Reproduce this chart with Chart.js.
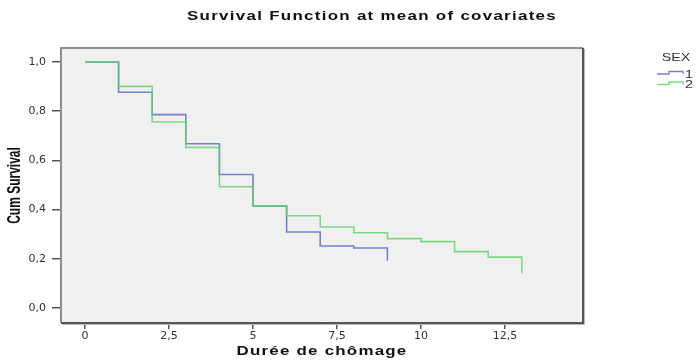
<!DOCTYPE html>
<html><head><meta charset="utf-8">
<script src="https://cdn.jsdelivr.net/npm/chart.js@4/dist/chart.umd.min.js"></script>
<style>html,body{margin:0;padding:0;background:#fff}#wrap{width:697px;height:362px;position:relative}</style>
</head><body><div id="wrap"><canvas id="c" width="697" height="362"></canvas></div>
<script>
const titleText = 'Survival Function at mean of covariates';
const xTitle = 'Durée de chômage';
const yTitle = 'Cum Survival';
const legendTitle = 'SEX';
const seriesNames = ['1', '2'];
const timesSex1 = [0, 1, 2, 3, 4, 5, 6, 7, 8, 9];
const survSex1 = [1.0, 0.877, 0.786, 0.668, 0.543, 0.414, 0.309, 0.252, 0.244, 0.192];
const timesSex2 = [0, 1, 2, 3, 4, 5, 6, 7, 8, 9, 10, 11, 12, 13];
const survSex2 = [1.0, 0.901, 0.756, 0.653, 0.493, 0.414, 0.375, 0.329, 0.306, 0.282, 0.270, 0.229, 0.207, 0.141];
const xTickValues = [0, 2.5, 5, 7.5, 10, 12.5];
const xTickLabels = ['0', '2,5', '5', '7,5', '10', '12,5'];
const yTickValues = [0, 0.2, 0.4, 0.6, 0.8, 1.0];
const yTickLabels = ['0,0', '0,2', '0,4', '0,6', '0,8', '1,0'];

const colors = ['rgba(96,114,198,0.88)', 'rgba(96,210,108,0.8)'];

function drawText(ctx, text, x, y, o) {
  ctx.save();
  ctx.font = o.font; ctx.fillStyle = o.color || '#000';
  ctx.textBaseline = 'middle'; ctx.textAlign = o.align || 'center';
  if ('letterSpacing' in ctx) ctx.letterSpacing = (o.ls || 0) + 'px';
  ctx.translate(x, y); ctx.scale(o.sx || 1, 1);
  if (o.rotate) ctx.rotate(o.rotate);
  ctx.fillText(text, 0, 0);
  ctx.restore();
}

const decor = {
  id: 'decor',
  beforeDatasetsDraw(chart) {
    const { ctx, chartArea: a } = chart;
    ctx.save();
    ctx.fillStyle = '#f0f0f0';
    ctx.fillRect(a.left, a.top, a.right - a.left, a.bottom - a.top);
    ctx.restore();
  },
  afterDatasetsDraw(chart) {
    const { ctx, chartArea: a } = chart;
    ctx.save();
    ctx.lineWidth = 2;
    ctx.strokeStyle = '#8e8e8e';
    ctx.beginPath();
    ctx.moveTo(a.left, a.bottom); ctx.lineTo(a.left, a.top); ctx.lineTo(a.right, a.top);
    ctx.stroke();
    ctx.strokeStyle = '#555';
    ctx.beginPath();
    ctx.moveTo(a.right, a.top); ctx.lineTo(a.right, a.bottom); ctx.lineTo(a.left, a.bottom);
    ctx.stroke();
    ctx.lineWidth = 1;
    ctx.strokeStyle = '#b8b8b8';
    ctx.beginPath();
    ctx.moveTo(a.right + 1.5, a.top + 1); ctx.lineTo(a.right + 1.5, a.bottom + 1.5); ctx.lineTo(a.left + 1, a.bottom + 1.5);
    ctx.stroke();
    ctx.restore();

    // titles
    drawText(ctx, titleText, 372, 16, { font: 'bold 13px "Liberation Sans", Arial, sans-serif', color: '#111', sx: 1.3, ls: 1.0 });
    drawText(ctx, xTitle, (a.left + a.right) / 2, 351, { font: 'bold 13px "Liberation Sans", Arial, sans-serif', color: '#111', sx: 1.3, ls: 0.95 });
    drawText(ctx, yTitle, 15, (a.top + a.bottom) / 2, { font: 'bold 12px "Liberation Sans", Arial, sans-serif', color: '#111', sx: 1.5, rotate: -Math.PI / 2 });

    // legend
    drawText(ctx, legendTitle, 676, 58, { font: '11px "Liberation Sans", Arial, sans-serif', color: '#333', sx: 1.3 });
    const ys = [74, 84.5];
    chart.data.datasets.forEach((ds, i) => {
      const yl = ys[i], yh = ys[i] - 2.5;
      ctx.save();
      ctx.strokeStyle = ds.borderColor; ctx.lineWidth = 1.4;
      ctx.beginPath();
      ctx.moveTo(657, yl); ctx.lineTo(669, yl); ctx.lineTo(669, yh); ctx.lineTo(683, yh); ctx.lineTo(683, yl);
      ctx.stroke();
      ctx.restore();
      drawText(ctx, ds.label, 685, yl + 0.5, { font: '11px "Liberation Sans", Arial, sans-serif', color: '#333', sx: 1.3, align: 'left' });
    });
  }
};

new Chart(document.getElementById('c'), {
  type: 'line',
  data: {
    datasets: [
      { label: seriesNames[0], data: timesSex1.map((t, i) => ({ x: t, y: survSex1[i] })), borderColor: colors[0], borderWidth: 1.6, stepped: true, pointRadius: 0, fill: false, order: 1 },
      { label: seriesNames[1], data: timesSex2.map((t, i) => ({ x: t, y: survSex2[i] })), borderColor: colors[1], borderWidth: 1.6, stepped: true, pointRadius: 0, fill: false, order: 0 }
    ]
  },
  options: {
    responsive: false, animation: false, devicePixelRatio: 1,
    layout: { padding: { left: 0, top: 48, right: 114, bottom: 0 } },
    plugins: { legend: { display: false }, title: { display: false }, tooltip: { enabled: false } },
    scales: {
      x: {
        type: 'linear', min: -0.714, max: 14.82,
        afterFit(s) { s.height = 39; },
        afterBuildTicks(s) { s.ticks = xTickValues.map(v => ({ value: v })); },
        ticks: { callback: (v, i) => xTickLabels[i], font: { family: '"DejaVu Sans", sans-serif', size: 11 }, color: '#333', padding: 1, maxRotation: 0, autoSkip: false },
        grid: { drawOnChartArea: false, drawTicks: true, tickLength: 6, color: '#555', lineWidth: 1.5 },
        border: { display: false }
      },
      y: {
        type: 'linear', min: -0.061, max: 1.057,
        afterFit(s) { s.width = 61; },
        afterBuildTicks(s) { s.ticks = yTickValues.map(v => ({ value: v })); },
        ticks: { callback: (v, i) => yTickLabels[i], font: { family: '"DejaVu Sans", sans-serif', size: 11 }, color: '#333', padding: 6, autoSkip: false },
        grid: { drawOnChartArea: false, drawTicks: true, tickLength: 9, color: '#555', lineWidth: 1.5 },
        border: { display: false }
      }
    }
  },
  plugins: [decor]
});
</script>
</body></html>
